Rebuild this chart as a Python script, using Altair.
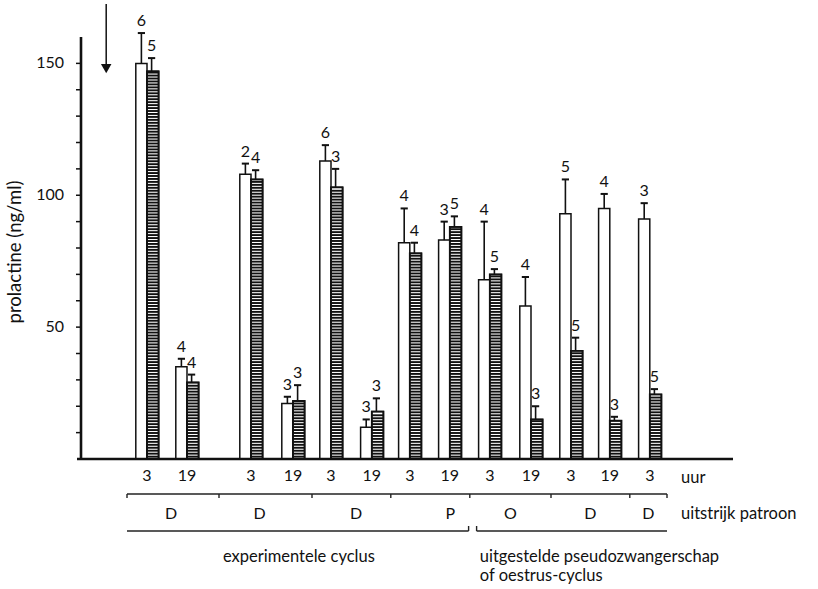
import altair as alt
import pandas as pd
import numpy as np

# ---------------- data ----------------
hours = [3, 19, 3, 19, 3, 19, 3, 19, 3, 19, 3, 19, 3]
open_mean = [150, 35, 108, 21, 113, 12, 82, 83, 68, 58, 93, 95, 91]
open_sem = [11.5, 3, 4, 2.6, 6, 3, 13, 7, 22, 11, 13, 5.5, 6]
open_n = [6, 4, 2, 3, 6, 3, 4, 3, 4, 4, 5, 4, 3]
hatch_mean = [147, 29, 106, 22, 103, 18, 78, 88, 70, 15, 41, 14.5, 24.5]
hatch_sem = [5, 3, 3.5, 6, 7, 5, 4, 4, 2, 5, 5, 1.5, 2]
hatch_n = [5, 4, 4, 3, 3, 3, 4, 5, 5, 3, 5, 3, 5]
patterns = ["D", "D", "D", "P", "O", "D", "D"]
pattern_sizes = [2, 2, 2, 2, 2, 2, 1]
phase_titles = [["experimentele cyclus"],
                ["uitgestelde pseudozwangerschap", "of oestrus-cyclus"]]
phase_groups = [4, 3]
y_ticks = [10, 20, 30, 40, 50, 60, 70, 80, 90, 100, 110, 120, 130, 140, 150]
y_labels = [50, 100, 150]
y_title = "prolactine (ng/ml)"
row_captions = ["uur", "uitstrijk patroon"]

# ---------------- layout ----------------
SLOT = [1.65, 2.65, 4.25, 5.3, 6.25, 7.27, 8.22, 9.22, 10.22, 11.25, 12.25, 13.22, 14.22]
W, H = 652, 422
LEFT, TOP = 81, 37
XDOM = [0, W / 40.0]
YDOM = [0, 160]
BW_O, BW_H = 0.28, 0.29
LABEL_NUDGE = [-0.05, -0.15, 0.12, 0.5, 0.0, 0.0, 0.0]
PHASE_X = [3.55, 9.97]
FONT = "Lato"
FS = 16.5
INK = "#111"

xs = alt.Scale(domain=XDOM, nice=False, zero=False)
ys = alt.Scale(domain=YDOM, nice=False)
X = lambda f: alt.X(f, scale=xs, axis=None)
Y = lambda f: alt.Y(f, scale=ys, axis=None)

rows = []
for i, s in enumerate(SLOT):
    rows.append(dict(kind="open", x=s - BW_O, x2=s, xc=s - BW_O / 2,
                     m=open_mean[i], top=open_mean[i] + open_sem[i], n=str(open_n[i])))
    rows.append(dict(kind="hatch", x=s, x2=s + BW_H, xc=s + BW_H / 2 - 0.03,
                     m=hatch_mean[i], top=hatch_mean[i] + hatch_sem[i], n=str(hatch_n[i])))
bars = pd.DataFrame(rows)
bars["c1"] = bars["xc"] - 0.09
bars["c2"] = bars["xc"] + 0.09

hrows = []
for i, s in enumerate(SLOT):
    for v in np.arange(0.9, hatch_mean[i] - 0.4, 1.12):
        hrows.append(dict(x=s, x2=s + BW_H, y=float(v)))
hatch = pd.DataFrame(hrows)

bar_layer = alt.Chart(bars).mark_bar(fill="white", stroke=INK, strokeWidth=1.5, clip=False).encode(
    x=X("x:Q"), x2="x2:Q", y=Y("m:Q"), y2=alt.value(H))

hatch_layer = alt.Chart(hatch).mark_rule(color=INK, strokeWidth=1.9, clip=False).encode(
    x=X("x:Q"), x2="x2:Q", y=Y("y:Q"))

hatch_outline = alt.Chart(bars[bars.kind == "hatch"]).mark_bar(
    fill=None, stroke=INK, strokeWidth=1.8, clip=False).encode(
    x=X("x:Q"), x2="x2:Q", y=Y("m:Q"), y2=alt.value(H))

err = alt.Chart(bars).mark_rule(color=INK, strokeWidth=1.6, clip=False).encode(
    x=X("xc:Q"), y=Y("m:Q"), y2="top:Q")
cap = alt.Chart(bars).mark_rule(color=INK, strokeWidth=2, clip=False).encode(
    x=X("c1:Q"), x2="c2:Q", y=Y("top:Q"))
nlab = alt.Chart(bars).mark_text(font=FONT, fontSize=16, color=INK, baseline="alphabetic",
                                 dy=-7, clip=False).encode(
    x=X("xc:Q"), y=Y("top:Q"), text="n:N")

# ---- hand-drawn axes ----
ydom_df = pd.DataFrame(dict(a=[YDOM[0]], b=[YDOM[1]]))
y_line = alt.Chart(ydom_df).mark_rule(color=INK, strokeWidth=2.6, clip=False).encode(
    x=alt.value(0), y=Y("a:Q"), y2="b:Q")
x_line = alt.Chart(ydom_df).mark_rule(color=INK, strokeWidth=2.6, clip=False).encode(
    x=alt.value(-4), x2=alt.value(W), y=Y("a:Q"))
tick_df = pd.DataFrame(dict(v=y_ticks))
y_tick = alt.Chart(tick_df).mark_rule(color=INK, strokeWidth=1.5, clip=False).encode(
    x=alt.value(-5), x2=alt.value(0), y=Y("v:Q"))
lab_df = pd.DataFrame(dict(v=y_labels, t=[str(v) for v in y_labels]))
y_lab = alt.Chart(lab_df).mark_text(font=FONT, fontSize=16, color=INK, align="right",
                                    baseline="middle", clip=False).encode(
    x=alt.value(-17), y=Y("v:Q"), text="t:N")
ttl = alt.Chart(pd.DataFrame(dict(t=[y_title]))).mark_text(
    font=FONT, fontSize=18.5, color=INK, angle=270, align="center", baseline="middle",
    clip=False).encode(x=alt.value(-66), y=alt.value(H / 2 + 4), text="t:N")

# hour labels under axis
hdf = pd.DataFrame(dict(x=SLOT, h=[str(h) for h in hours]))
hour_lab = alt.Chart(hdf).mark_text(font=FONT, fontSize=16, color=INK, baseline="middle",
                                    clip=False).encode(
    x=X("x:Q"), y=alt.value(439), text="h:N")

# pattern groups
idx = 0
starts, ends = [], []
for size in pattern_sizes:
    starts.append(SLOT[idx])
    ends.append(SLOT[idx + size - 1])
    idx += size
edges = [starts[0] - 0.5]
for k in range(1, len(starts)):
    edges.append((ends[k - 1] + starts[k]) / 2)
edges.append(ends[-1] + 0.43)
gdf = pd.DataFrame(dict(lab=patterns,
                        x=[(edges[k] + edges[k + 1]) / 2 + LABEL_NUDGE[k] for k in range(len(patterns))]))
edf = pd.DataFrame(dict(x=edges))

top_line = alt.Chart(pd.DataFrame(dict(a=[edges[0]], b=[edges[-1]]))).mark_rule(
    color="#222", strokeWidth=1.4, clip=False).encode(
    x=X("a:Q"), x2="b:Q", y=alt.value(457))
top_ticks = alt.Chart(edf).mark_rule(color="#222", strokeWidth=1.4, clip=False).encode(
    x=X("x:Q"), y=alt.value(457), y2=alt.value(461))
glab = alt.Chart(gdf).mark_text(font=FONT, fontSize=16, color=INK, baseline="middle",
                                clip=False).encode(
    x=X("x:Q"), y=alt.value(477), text="lab:N")

# phase brackets
g0 = 0
ph_rows = []
for p, ng in enumerate(phase_groups):
    ph_rows.append(dict(a=edges[g0], b=edges[g0 + ng]))
    g0 += ng
ph_rows[0]["b"] -= 0.03
ph_rows[1]["a"] += 0.17
phdf = pd.DataFrame(ph_rows)
hooks = pd.DataFrame(dict(x=[ph_rows[0]["b"], ph_rows[1]["a"]]))
ph_line = alt.Chart(phdf).mark_rule(color="#222", strokeWidth=1.4, clip=False).encode(
    x=X("a:Q"), x2="b:Q", y=alt.value(494))
ph_hook = alt.Chart(hooks).mark_rule(color="#222", strokeWidth=1.4, clip=False).encode(
    x=X("x:Q"), y=alt.value(489), y2=alt.value(494))

trows = []
for p, lines in enumerate(phase_titles):
    for j, t in enumerate(lines):
        trows.append(dict(x=PHASE_X[p], t=t, yy=520 + 19 * j))
tdf = pd.DataFrame(trows)
ph_text = alt.Chart(tdf).mark_text(font=FONT, fontSize=FS, color=INK, align="left",
                                   baseline="middle", clip=False).encode(
    x=X("x:Q"), y=alt.Y("yy:Q", scale=None, axis=None), text="t:N")

# row captions
cap_df = pd.DataFrame(dict(t=row_captions, yy=[441, 477]))
row_cap = alt.Chart(cap_df).mark_text(font=FONT, fontSize=FS, color=INK, align="left",
                                      baseline="middle", clip=False).encode(
    x=alt.value(600), y=alt.Y("yy:Q", scale=None, axis=None), text="t:N")

# arrow
arrow_df = pd.DataFrame(dict(x=[0.63], y1=[172.5], y2=[148.5], tip=[148.0]))
arrow_line = alt.Chart(arrow_df).mark_rule(color=INK, strokeWidth=1.5, clip=False).encode(
    x=X("x:Q"), y=Y("y1:Q"), y2="y2:Q")
arrow_head = alt.Chart(arrow_df).mark_point(shape="triangle-down", filled=True, color=INK,
                                            size=110, opacity=1, clip=False).encode(
    x=X("x:Q"), y=Y("tip:Q"))

chart = alt.layer(
    bar_layer, hatch_layer, hatch_outline, err, cap, nlab,
    y_line, x_line, y_tick, y_lab, ttl, hour_lab,
    top_line, top_ticks, glab, ph_line, ph_hook, ph_text, row_cap, arrow_line, arrow_head
).properties(
    width=W, height=H,
    autosize=alt.AutoSizeParams(type="none"),
    padding={"left": LEFT, "top": TOP, "right": 818 - LEFT - W, "bottom": 589 - TOP - H},
    background="white",
).configure_view(stroke=None)

chart.save("out.html", embed_options={"renderer": "svg", "actions": False})
